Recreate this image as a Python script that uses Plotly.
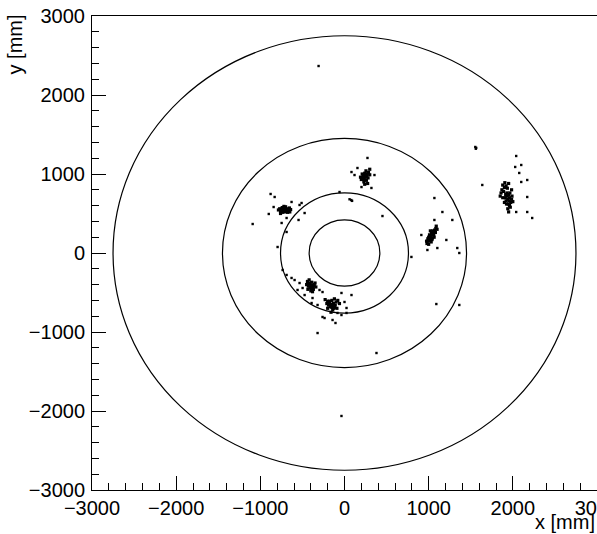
import plotly.graph_objects as go

# Circle radii (mm)
ring_radii = [420, 760, 1450, 2750]

# Hit clusters (mm)
c1_x = [-770,-750,-740,-725,-710,-700,-690,-680,-665,-655,-735,-760,-720,-700,-745,-715,-690,-675,-785,-640,-730,-705,-760,-650]
c1_y = [560,540,575,530,555,520,560,545,535,570,515,525,590,585,555,545,530,515,545,550,565,540,500,520]

c2_x = [200,215,225,240,255,270,250,235,260,280,300,210,245,230,265,285,190,275,220,255,300,240]
c2_y = [930,960,990,1010,1040,1000,960,930,920,950,990,1000,980,900,975,1020,960,880,940,1000,1060,870]

c3_x = [980,995,1005,1015,1025,1040,1055,1070,1085,1000,1020,1045,1060,1035,1010,990,1050,1030,1065,975,1080,1020,1000,1040,1090,1100]
c3_y = [120,150,170,190,210,230,260,290,310,200,160,190,230,250,230,180,280,140,200,150,260,280,110,170,340,300]

c4_x = [1880,1900,1920,1870,1950,1935,1890,1860,1930,1950,1960,1940,1920,1945,1960,1975,1985,1930,1910,1955,1970,1940,1990,1925,1965,1950,1900,1915,2000,1880,1850,1905,1985]
c4_y = [860,830,850,800,880,820,780,760,760,740,700,680,660,620,600,640,680,720,700,660,580,560,720,620,760,520,640,740,650,700,720,890,800]

c5_x = [-440,-420,-400,-380,-360,-410,-390,-430,-370,-400,-350,-420,-450,-380,-395,-410,-365,-435,-385,-340]
c5_y = [-360,-390,-410,-430,-400,-440,-370,-420,-460,-480,-380,-340,-400,-490,-450,-380,-420,-460,-410,-430]

c6_x = [-230,-200,-180,-160,-140,-120,-100,-150,-170,-130,-190,-110,-80,-140,-160,-200,-120,-90,-210,-150,-175,-130,-60]
c6_y = [-590,-610,-630,-650,-670,-690,-620,-600,-680,-640,-660,-660,-600,-720,-750,-700,-580,-700,-640,-690,-610,-700,-640]

# Scattered hits (mm)
scat_x = [-878,-830,-842,-900,-629,-510,-546,-747,-474,-688,
          273,154,119,356,202,320,83,80,60,90,
          1068,1281,913,1210,985,1103,1068,1163,1340,1364,795,
          2040,2100,2028,2076,2100,2171,1637,2171,2040,2171,2230,1554,1565,1560,
          -629,-593,-534,-498,-558,-474,-380,-320,-391,-297,-261,-36,0,24,-83,-36,-261,-142,-735,-688,
          -1091,-795,-688,-534,451,-59,-237,-107,24,83,-320,380,
          -308,-36,1364,1091]
scat_y = [747,709,582,494,646,633,418,380,506,443,
          1203,1076,987,987,835,823,1025,670,680,660,
          418,418,228,165,38,63,696,519,63,0,-50,
          1228,1114,1089,1013,899,924,861,709,519,519,443,1342,1330,1320,
          -316,-342,-380,-443,-468,-532,-570,-658,-633,-468,-494,-506,-620,-696,-759,-785,-810,-848,-215,-278,
          367,76,266,608,468,772,-823,-886,-759,-532,-1013,-1266,
          2367,-2063,-658,-646]

core_x = c1_x + c2_x + c3_x + c4_x + c5_x + c6_x
core_y = c1_y + c2_y + c3_y + c4_y + c5_y + c6_y

axis_range = [-3000, 3000]
tick_vals = [-3000, -2000, -1000, 0, 1000, 2000, 3000]

fig = go.Figure()
fig.add_trace(go.Scatter(
    x=core_x, y=core_y, mode="markers",
    marker=dict(color="black", size=3.2, symbol="square", line=dict(width=0)),
    hoverinfo="skip", showlegend=False,
))
fig.add_trace(go.Scatter(
    x=scat_x, y=scat_y, mode="markers",
    marker=dict(color="black", size=2.4, symbol="square", line=dict(width=0)),
    hoverinfo="skip", showlegend=False,
))

for r in ring_radii:
    fig.add_shape(type="circle", xref="x", yref="y", x0=-r, x1=r, y0=-r, y1=r,
                  line=dict(color="black", width=1.2))

font = dict(family="Liberation Sans, Arial, Helvetica, sans-serif", size=20, color="black")

common_axis = dict(
    range=axis_range, tickvals=tick_vals, ticks="inside", ticklen=14, tickwidth=1,
    tickcolor="black", showline=True, linecolor="black", linewidth=1, mirror=True,
    showgrid=False, zeroline=False, tickfont=font, automargin=False,
    ticklabeloverflow="allow",
    minor=dict(ticks="inside", ticklen=7, dtick=200, tickcolor="black", tickwidth=1, showgrid=False),
)

fig.update_layout(
    width=597, height=534,
    margin=dict(l=92, r=0, t=16, b=44, autoexpand=False),
    paper_bgcolor="white", plot_bgcolor="white",
    xaxis=dict(**common_axis, ticklabelstandoff=0),
    yaxis=dict(**common_axis, ticklabelstandoff=2),
    font=font,
    showlegend=False,
)

fig.add_annotation(text="x [mm]", xref="paper", yref="paper", x=1.0, y=-0.067,
                   xanchor="right", yanchor="middle", showarrow=False, font=font)
fig.add_annotation(text="y [mm]", xref="paper", yref="paper", x=-0.152, y=1.008,
                   xanchor="center", yanchor="top", textangle=-90, showarrow=False, font=font)

fig.write_html(
    "out.html",
    config={"displayModeBar": False},
    post_script="document.body.style.margin='0';document.body.style.overflow='hidden';",
)
